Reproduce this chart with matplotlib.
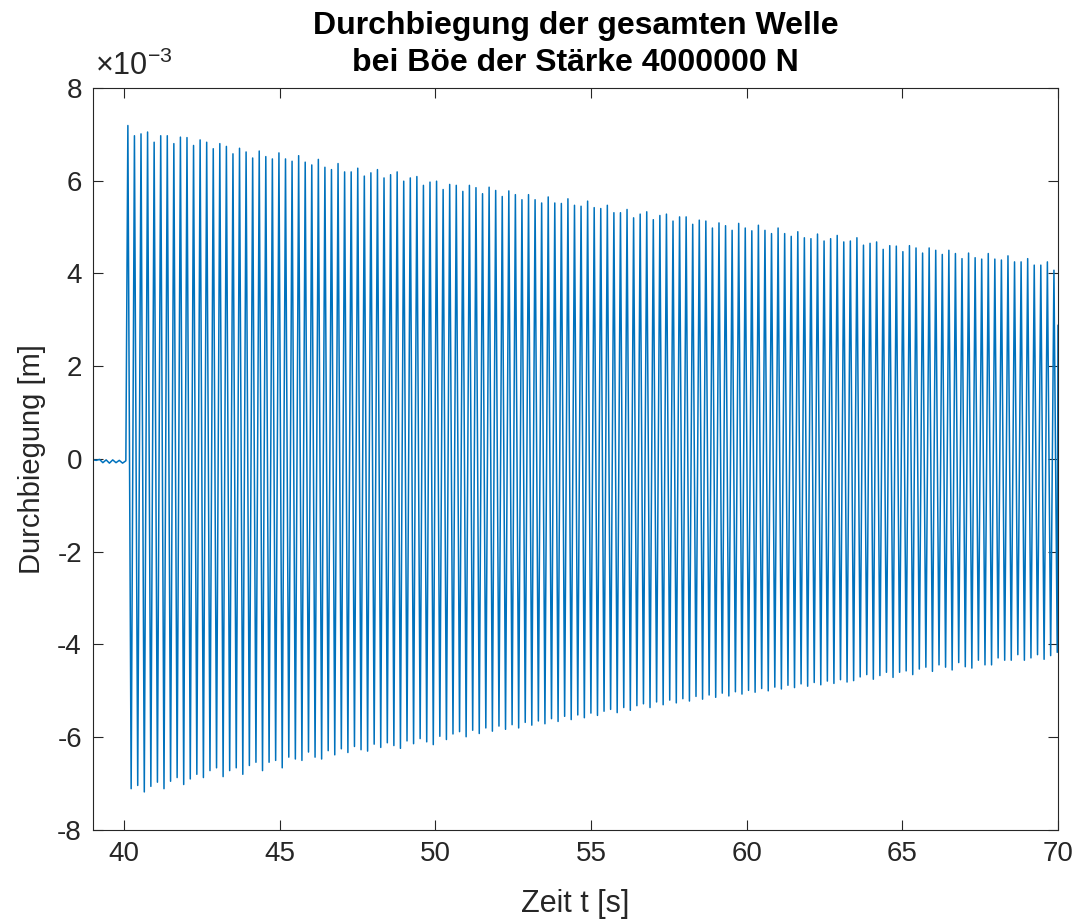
import numpy as np
from matplotlib import pyplot as plt

plt.rcParams['font.family'] = ['Liberation Sans', 'DejaVu Sans']
plt.rcParams['axes.unicode_minus'] = False
plt.rcParams['mathtext.fontset'] = 'custom'
plt.rcParams['mathtext.rm'] = 'Liberation Sans'

# deflection values in units of 1e-3 m
# small ripple before the gust, one value every half period, starting at t = 39 s
pre_gust = [-0.02, -0.03, -0.01, -0.08, -0.02, -0.09, -0.02, -0.08, -0.03, -0.09, -0.04]

# upper turning points after the gust (one per period)
upper_peaks = [
    7.19, 6.97, 7.01, 7.05, 6.83, 6.97, 6.97, 6.80, 6.94, 6.93, 6.76, 6.88,
    6.83, 6.69, 6.80, 6.74, 6.58, 6.70, 6.62, 6.49, 6.64, 6.52, 6.47, 6.60,
    6.47, 6.42, 6.54, 6.40, 6.34, 6.46, 6.29, 6.24, 6.37, 6.19, 6.19, 6.27,
    6.10, 6.17, 6.24, 6.06, 6.13, 6.19, 5.99, 6.06, 6.09, 5.90, 5.97,
    5.99, 5.81, 5.92, 5.90, 5.77, 5.90, 5.85, 5.72, 5.86, 5.79, 5.66, 5.78,
    5.70, 5.59, 5.70, 5.59, 5.52, 5.65, 5.52, 5.51, 5.61, 5.47, 5.45, 5.56,
    5.42, 5.40, 5.47, 5.31, 5.31, 5.38, 5.20, 5.28, 5.33, 5.16, 5.25, 5.28,
    5.13, 5.22, 5.22, 5.06, 5.15, 5.13, 4.98, 5.09, 5.03, 4.93, 5.08, 4.98,
    4.92, 5.04, 4.93, 4.86, 4.98, 4.86, 4.80, 4.90, 4.77, 4.75, 4.85, 4.70,
    4.75, 4.82, 4.68, 4.70, 4.77, 4.61, 4.65, 4.68, 4.52, 4.60, 4.59, 4.47,
    4.60, 4.55, 4.44, 4.55, 4.50, 4.41, 4.50, 4.43, 4.32, 4.44, 4.34, 4.31,
    4.43, 4.31, 4.29, 4.38, 4.25, 4.25, 4.32, 4.18, 4.18, 4.25, 4.07,
]

# lower turning points (one per period, each half a period after an upper one)
lower_peaks = [
    -7.11, -7.04, -7.18, -7.06, -6.97, -7.11, -6.95, -6.87, -7.02, -6.90,
    -6.80, -6.87, -6.72, -6.66, -6.85, -6.72, -6.66, -6.80, -6.61, -6.54,
    -6.72, -6.54, -6.50, -6.66, -6.43, -6.47, -6.50, -6.32, -6.43, -6.47, -6.29,
    -6.38, -6.25, -6.33, -6.20, -6.27, -6.30, -6.15, -6.22, -6.12, -6.18,
    -6.24, -6.08, -6.14, -6.03, -6.10, -6.16,
    -5.98, -6.05, -5.93, -5.88, -5.99, -5.85, -5.92, -5.80, -5.87, -5.76,
    -5.83, -5.73, -5.80, -5.68, -5.74, -5.65, -5.71, -5.60, -5.66, -5.55,
    -5.62, -5.52, -5.58, -5.48,
    -5.53, -5.44, -5.40, -5.47, -5.36, -5.42, -5.32, -5.28, -5.36, -5.24,
    -5.30, -5.20, -5.26, -5.17, -5.22, -5.12, -5.18, -5.09, -5.14, -5.05,
    -5.11, -5.02, -5.07, -4.99,
    -5.03, -4.95, -5.00, -4.92, -4.96, -4.88, -4.93, -4.85, -4.90, -4.82,
    -4.87, -4.79, -4.84, -4.76, -4.81,
    -4.78, -4.70, -4.65, -4.75, -4.67, -4.60, -4.71, -4.60, -4.57, -4.65,
    -4.53, -4.49, -4.58, -4.44, -4.49, -4.55, -4.39, -4.48, -4.51, -4.34,
    -4.44, -4.44, -4.29, -4.34, -4.34, -4.22, -4.34, -4.29, -4.22, -4.32,
    -4.24, -4.17,
]

end_value = 2.88          # last sample at t = 70 s
t_start = 39.0
t_gust = 40.12            # first upper peak
half_period = 0.1055      # read from the spacing of the peaks
t_end = 70.0

# assemble signal: pre-gust ripple, then alternating upper/lower turning points
t_pre = t_start + half_period * np.arange(len(pre_gust))
osc = np.empty(2 * len(upper_peaks))
osc[0::2] = upper_peaks
osc[1::2] = lower_peaks
t_osc = t_gust + half_period * np.arange(len(osc))

t = np.concatenate([t_pre, t_osc, [t_end]])
y = np.concatenate([pre_gust, osc, [end_value]])

fig = plt.figure(figsize=(10.79, 9.23), dpi=100)
ax = fig.add_axes([0.0862, 0.1008, 0.8943, 0.8039])
ax.plot(t, y, color='#0072BD', linewidth=1.1)

ax.set_xlim(39, 70)
ax.set_ylim(-8, 8)
ax.set_xticks(np.arange(40, 71, 5))
ax.set_yticks(np.arange(-8, 9, 2))

dark = '#262626'
ax.tick_params(direction='in', length=7, width=0.8, labelsize=20,
               colors=dark, top=True, right=True, pad=8)
for s in ax.spines.values():
    s.set_color(dark)
    s.set_linewidth(0.8)

ax.set_xlabel('Zeit t [s]', fontsize=22, color=dark, labelpad=16)
ax.set_ylabel('Durchbiegung [m]', fontsize=21, color=dark, labelpad=8)
ax.set_title('Durchbiegung der gesamten Welle\nbei Böe der Stärke 4000000 N',
             fontsize=23, fontweight='bold', color='black', pad=12, linespacing=1.3)
ax.text(0.002, 1.008, r'$\mathregular{\times10^{-3}}$', transform=ax.transAxes,
        fontsize=22, color=dark, ha='left', va='bottom')

fig.savefig('out.png', dpi=100)
